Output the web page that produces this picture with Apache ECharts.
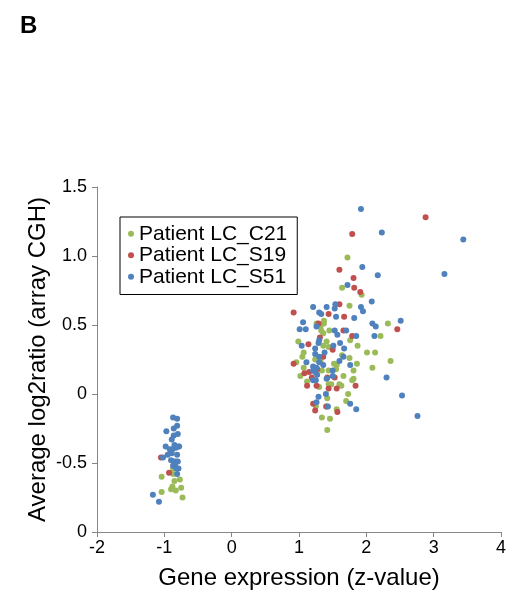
<!DOCTYPE html>
<html>
<head>
<meta charset="utf-8">
<script src="https://cdn.jsdelivr.net/npm/echarts@6/dist/echarts.min.js"></script>
<style>
  html, body { margin: 0; padding: 0; background: #fff; }
  #chart { width: 523px; height: 599px; }
</style>
</head>
<body>
<div id="chart"></div>
<script>
// series names, in legend order
const seriesNames = ['Patient LC_C21', 'Patient LC_S19', 'Patient LC_S51'];
const seriesColors = ['#9bbb59', '#c0504d', '#4f81bd'];

// [gene expression z-value, average log2ratio]
const c21Points = [
  [1.72, 0.99], [1.64, 0.77], [1.93, 0.72], [1.75, 0.64], [1.26, 0.51], [1.37, 0.53],
  [1.37, 0.51], [1.32, 0.49], [1.33, 0.46], [1.36, 0.44], [1.45, 0.46], [2.32, 0.51],
  [2.21, 0.42], [1.76, 0.39], [1.87, 0.35], [0.99, 0.38], [1.41, 0.38], [1.36, 0.35],
  [1.44, 0.34], [1.07, 0.30], [2.01, 0.30], [2.13, 0.30], [1.05, 0.27], [1.24, 0.25],
  [1.32, 0.24], [0.96, 0.23], [1.64, 0.28], [1.75, 0.26], [1.52, 0.22], [1.56, 0.21],
  [1.55, 0.18], [1.86, 0.22], [2.36, 0.24], [1.07, 0.19], [1.34, 0.17], [1.44, 0.17],
  [1.81, 0.17], [2.09, 0.19], [1.02, 0.13], [1.66, 0.13], [1.79, 0.10], [1.81, 0.11],
  [1.12, 0.09], [1.30, 0.05], [1.44, 0.07], [1.48, 0.07], [1.60, 0.07], [1.63, 0.06],
  [1.73, 0.00], [1.42, -0.03], [1.70, -0.05], [1.25, -0.09], [1.40, -0.09], [1.56, -0.11],
  [1.34, -0.17], [1.46, -0.18], [1.42, -0.26],
  [-0.87, -0.54], [-0.87, -0.58], [-1.04, -0.60], [-0.85, -0.63], [-0.77, -0.62],
  [-0.88, -0.67], [-0.90, -0.69], [-0.83, -0.70], [-0.75, -0.68], [-1.04, -0.71],
  [-0.73, -0.75]
];
const s19Points = [
  [2.88, 1.28], [1.79, 1.16], [1.60, 0.90], [1.81, 0.84], [1.82, 0.77], [1.91, 0.74],
  [0.92, 0.59], [1.60, 0.65], [1.44, 0.58], [1.67, 0.56], [1.29, 0.51], [2.46, 0.47],
  [1.66, 0.46], [1.79, 0.42], [1.31, 0.41], [1.14, 0.36], [1.50, 0.32], [1.36, 0.27],
  [0.92, 0.22], [1.08, 0.15], [1.15, 0.16], [1.27, 0.18], [1.19, 0.12], [1.42, 0.12],
  [1.53, 0.12], [1.12, 0.06], [1.26, 0.06], [1.44, 0.04], [1.56, 0.04], [1.84, 0.06],
  [1.21, -0.07], [1.41, -0.09], [1.24, -0.12], [1.57, -0.13],
  [-1.05, -0.46], [-0.93, -0.57]
];
const s51Points = [
  [1.92, 1.34], [2.23, 1.17], [3.44, 1.12], [1.94, 0.92], [2.17, 0.86], [3.16, 0.87],
  [1.72, 0.79], [2.08, 0.67], [1.21, 0.63], [1.41, 0.63], [1.54, 0.65], [1.53, 0.62],
  [1.92, 0.63], [1.95, 0.60], [1.30, 0.59], [1.33, 0.58], [1.55, 0.56], [1.82, 0.55],
  [1.06, 0.52], [1.01, 0.47], [1.10, 0.47], [1.26, 0.49], [2.09, 0.51], [2.14, 0.49],
  [2.51, 0.53], [1.53, 0.46], [1.57, 0.43], [1.70, 0.46], [1.85, 0.42], [2.12, 0.42],
  [1.30, 0.39], [1.29, 0.37], [1.04, 0.35], [1.61, 0.37], [1.51, 0.35], [1.24, 0.33],
  [1.67, 0.33], [1.11, 0.23], [1.24, 0.29], [1.38, 0.30], [1.30, 0.27], [1.66, 0.27],
  [1.60, 0.24], [1.30, 0.23], [1.21, 0.20], [1.21, 0.17], [1.24, 0.16], [1.26, 0.19],
  [1.36, 0.21], [1.76, 0.21], [1.50, 0.17], [1.27, 0.14], [1.21, 0.10], [1.25, 0.10],
  [1.41, 0.11], [1.50, 0.13], [2.30, 0.12], [1.40, 0.00], [1.29, -0.02], [1.26, -0.06],
  [2.53, -0.01], [1.76, -0.07], [1.43, -0.09], [1.85, -0.11], [2.76, -0.16],
  [-0.87, -0.17], [-0.81, -0.18], [-0.81, -0.23], [-0.86, -0.25], [-0.97, -0.27],
  [-0.80, -0.29], [-0.86, -0.30], [-0.89, -0.33], [-0.98, -0.38], [-0.85, -0.37],
  [-0.79, -0.38], [-0.83, -0.39], [-0.78, -0.38], [-0.92, -0.40], [-0.88, -0.40],
  [-0.95, -0.44], [-0.89, -0.43], [-0.81, -0.44], [-1.02, -0.46], [-0.90, -0.48],
  [-0.86, -0.49], [-0.83, -0.49], [-0.80, -0.49], [-0.84, -0.51], [-0.87, -0.52],
  [-0.82, -0.54], [-0.79, -0.54], [-0.81, -0.58], [-1.17, -0.73], [-1.08, -0.78]
];

// y tick labels as printed, bottom to top (bottom one is printed "0")
const yTickValues = [-1, -0.5, 0, 0.5, 1, 1.5];
const yTickLabels = ['0', '-0.5', '0', '0.5', '1.0', '1.5'];

const fontFamily = '"Liberation Sans", Arial, sans-serif';
const axisGrey = '#868686';

const chart = echarts.init(document.getElementById('chart'), null, { renderer: 'canvas' });

const option = {
  backgroundColor: '#fff',
  animation: false,
  title: {
    text: 'B',
    left: 15,
    top: 9,
    textStyle: { fontFamily, fontSize: 24, fontWeight: 'bold', color: '#000' }
  },
  legend: {
    orient: 'vertical',
    left: 120,
    top: 217,
    padding: [6, 10, 7, 8],
    itemGap: 0,
    itemWidth: 6,
    itemHeight: 6,
    icon: 'circle',
    borderColor: '#000',
    borderWidth: 1,
    backgroundColor: '#fff',
    textStyle: { fontFamily, fontSize: 21, color: '#000', lineHeight: 21.5 },
    data: seriesNames
  },
  grid: { left: 97, right: 22, top: 187, bottom: 67, containLabel: false },
  xAxis: {
    type: 'value',
    min: -2,
    max: 4,
    interval: 1,
    name: 'Gene expression (z-value)',
    nameLocation: 'middle',
    nameGap: 34,
    nameMoveOverlap: false,
    nameTextStyle: { fontFamily, fontSize: 24, color: '#000' },
    axisLine: { onZero: false, lineStyle: { color: axisGrey, width: 1 } },
    axisTick: { show: true, inside: false, length: 5, lineStyle: { color: axisGrey } },
    axisLabel: { fontFamily, fontSize: 18, color: '#000', margin: 7 },
    splitLine: { show: false }
  },
  yAxis: {
    type: 'value',
    min: -1,
    max: 1.5,
    interval: 0.5,
    name: 'Average log2ratio (array CGH)',
    nameLocation: 'middle',
    nameGap: 47,
    nameMoveOverlap: false,
    nameTextStyle: { fontFamily, fontSize: 24, color: '#000' },
    axisLine: { show: true, onZero: false, lineStyle: { color: axisGrey, width: 1 } },
    axisTick: { show: true, inside: false, length: 5, lineStyle: { color: axisGrey } },
    axisLabel: {
      fontFamily,
      fontSize: 18,
      color: '#000',
      margin: 10,
      formatter: val => {
        const i = yTickValues.findIndex(v => Math.abs(v - val) < 1e-9);
        return i >= 0 ? yTickLabels[i] : '';
      }
    },
    splitLine: { show: false }
  },
  series: [c21Points, s19Points, s51Points].map((pts, i) => ({
    name: seriesNames[i],
    type: 'scatter',
    symbol: 'circle',
    symbolSize: 6,
    itemStyle: { color: seriesColors[i], opacity: 1 },
    data: pts
  }))
};

chart.setOption(option);
</script>
</body>
</html>
